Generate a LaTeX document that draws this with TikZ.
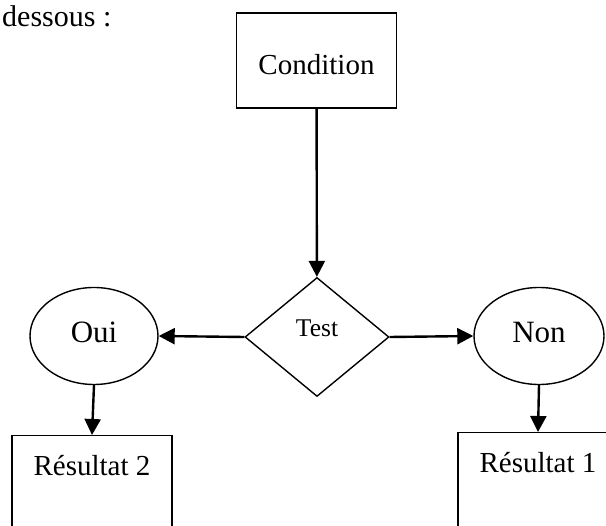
\documentclass[tikz,border=0pt]{standalone}
\usepackage{fontspec}
\setmainfont{Liberation Serif}
\usetikzlibrary{shapes.geometric,arrows.meta}
\begin{document}
\begin{tikzpicture}[x=1pt,y=-1pt,
    box/.style={draw,line width=1.4pt,rectangle,minimum width=160pt,inner sep=0pt,font=\fontsize{29}{34}\selectfont},
    oval/.style={draw,line width=1.4pt,ellipse,minimum width=128pt,minimum height=97pt,inner sep=0pt,text depth=8pt,font=\fontsize{31}{36}\selectfont},
    losange/.style={draw,line width=1.4pt,diamond,minimum width=144pt,minimum height=119pt,inner sep=0pt,text depth=17pt,font=\fontsize{25.5}{30}\selectfont}]
      \useasboundingbox (0,0) rectangle (606,526);
      \draw
        (2,27) node[anchor=base west,inner sep=0pt,font=\fontsize{30}{36}\selectfont] (intro){dessous :}
        (316.5,60.5) node[box,minimum height=95pt,text height=28pt] (cond){Condition}
        (317,337) node[losange] (test){Test}
        (94,336) node[oval] (oui){Oui}
        (539,336) node[oval,minimum width=130pt] (non){Non}
        (92,435) node[box,anchor=north,text height=40pt,text depth=100pt] (res2){Résultat 2}
        (538,432) node[box,anchor=north,text height=40pt,text depth=100pt] (res1){Résultat 1};
      \begin{scope}[line width=2.4pt,-{Triangle[length=16pt,width=16pt]}]
        \draw (cond) to (test);
        \draw (test.west) to (oui.east);
        \draw (test.east) to (non.west);
        \draw (oui.south) to (res2.north);
        \draw (non.south) to (res1.north);
      \end{scope}
    \end{tikzpicture}
\end{document}
